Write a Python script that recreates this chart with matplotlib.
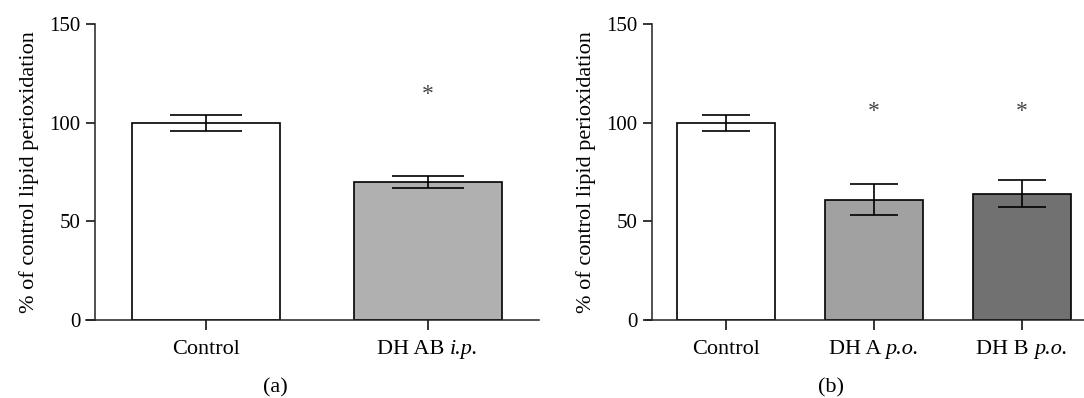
import matplotlib
matplotlib.use("Agg")
import matplotlib.pyplot as plt

plt.rcParams['font.family'] = ['Liberation Serif', 'DejaVu Serif']

# Panel (a): (plain part, italic part) of each category label
cats_a = [('Control', ''), ('DH AB ', 'i.p.')]
vals_a = [100, 70]
errs_a = [4.1, 3.0]
colors_a = ['#ffffff', '#b0b0b0']
stars_a = [None, 114.5]

# Panel (b)
cats_b = [('Control', ''), ('DH A ', 'p.o.'), ('DH B ', 'p.o.')]
vals_b = [100, 61, 64]
errs_b = [4.1, 7.7, 6.9]
colors_b = ['#ffffff', '#a1a1a2', '#717171']
stars_b = [None, 105.5, 105.5]

ylabel = '% of control lipid perioxidation'
yticks = [0, 50, 100, 150]

W, H = 1084, 398
FS = 16
fig = plt.figure(figsize=(W / 100, H / 100), dpi=100)
renderer = fig.canvas.get_renderer()


def panel(rect, cats, vals, errs, colors, stars, xlim, capsize):
    ax = fig.add_axes(rect)
    x = list(range(len(cats)))
    ax.bar(x, vals, width=0.667, color=colors, edgecolor='black', linewidth=1.2, zorder=2)
    ax.errorbar(x, vals, yerr=errs, fmt='none', ecolor='black', elinewidth=1.2,
                capsize=capsize, capthick=1.2, zorder=3)
    for xi, s in zip(x, stars):
        if s is not None:
            ax.text(xi, s, '*', ha='center', va='center', fontsize=17, color='#444444')
    ax.set_xlim(*xlim)
    ax.set_ylim(0, 150)
    ax.set_yticks(yticks)
    ax.set_xticks(x)
    ax.set_xticklabels([''] * len(x))
    ax.tick_params(axis='y', labelsize=15, length=6.5, width=1.1, pad=4, direction='out')
    ax.tick_params(axis='x', length=7, width=1.1, pad=7, direction='out')
    for sp in ['top', 'right']:
        ax.spines[sp].set_visible(False)
    for sp in ['left', 'bottom']:
        ax.spines[sp].set_linewidth(1.1)
        ax.spines[sp].set_color('#222222')
    ax.spines['bottom'].set_bounds(xlim[0] - 0.04, xlim[1])
    ax.spines['bottom'].set_clip_on(False)
    ax.set_ylabel(ylabel, fontsize=FS, labelpad=7)

    # category labels with italic parts
    off = -20
    for xi, (plain, ital) in zip(x, cats):
        t1 = ax.annotate(plain, xy=(xi, 0), xycoords=('data', 'axes fraction'),
                         xytext=(0, off), textcoords='offset pixels',
                         ha='left', va='top', fontsize=FS)
        t2 = ax.annotate(ital, xy=(xi, 0), xycoords=('data', 'axes fraction'),
                         xytext=(0, off), textcoords='offset pixels',
                         ha='left', va='top', fontsize=FS, style='italic')
        w1 = t1.get_window_extent(renderer).width if plain else 0
        w2 = t2.get_window_extent(renderer).width if ital else 0
        tot = w1 + w2
        t1.set_position((-tot / 2, off))
        t2.set_position((-tot / 2 + w1, off))
    return ax


bottom = 1 - 320 / H
top = 1 - 24 / H
ax1 = panel([95 / W, bottom, (539 - 95) / W, top - bottom], cats_a, vals_a, errs_a,
            colors_a, stars_a, (-0.5, 1.5), 26)
ax2 = panel([652 / W, bottom, (1084 - 652) / W, top - bottom], cats_b, vals_b, errs_b,
            colors_b, stars_b, (-0.5, 2.42), 17.5)

fig.text(275 / W, 1 - 388 / H, '(a)', ha='center', va='center', fontsize=FS)
fig.text(831 / W, 1 - 388 / H, '(b)', ha='center', va='center', fontsize=FS)

fig.savefig('out.png', dpi=100)
